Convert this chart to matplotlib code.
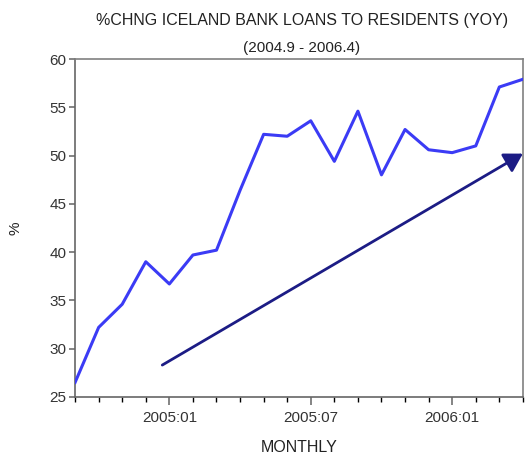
import matplotlib.pyplot as plt
import numpy as np

plt.rcParams['font.family'] = ['Liberation Sans', 'DejaVu Sans']

# monthly data, 2004.9 - 2006.4
months = ['2004:09', '2004:10', '2004:11', '2004:12', '2005:01', '2005:02',
          '2005:03', '2005:04', '2005:05', '2005:06', '2005:07', '2005:08',
          '2005:09', '2005:10', '2005:11', '2005:12', '2006:01', '2006:02',
          '2006:03', '2006:04']
loans_yoy = [26.5, 32.2, 34.6, 39.0, 36.7, 39.7, 40.2, 46.4, 52.2, 52.0,
             53.6, 49.4, 54.6, 48.0, 52.7, 50.6, 50.3, 51.0, 57.1, 57.9]
tick_labels = ['2005:01', '2005:07', '2006:01']

# trend arrow (month index, value)
arrow_start = (3.7, 28.3)
arrow_end = (19.0, 50.2)

x = np.arange(len(months))

fig = plt.figure(figsize=(5.25, 4.61), dpi=100)
ax = fig.add_axes([0.143, 0.139, 0.853, 0.733])

ax.plot(x, loans_yoy, color='#3b3bf5', linewidth=2.2, zorder=3)

ax.annotate('', xy=arrow_end, xytext=arrow_start,
            arrowprops=dict(arrowstyle='-|>,head_length=1.1,head_width=0.65',
                            color='#1c1c85', lw=2.0, shrinkA=0, shrinkB=0),
            annotation_clip=False, zorder=4)

ax.set_xlim(0, len(months) - 1)
ax.set_ylim(25, 60)
ax.set_yticks(np.arange(25, 61, 5))
major = [months.index(t) for t in tick_labels]
ax.set_xticks(major)
ax.set_xticklabels(tick_labels)
ax.set_xticks(x, minor=True)

for s in ax.spines.values():
    s.set_color('#808080')
    s.set_linewidth(1.2)
ax.spines['left'].set_color('#666666')
ax.spines['bottom'].set_color('#666666')
ax.tick_params(axis='both', colors='#707070', labelcolor='#333333',
               labelsize=11, direction='out')
ax.tick_params(axis='x', which='major', length=6, width=1.2, pad=4)
ax.tick_params(axis='x', which='minor', length=3.5, width=1.0)
ax.tick_params(axis='y', length=4, width=1.2, pad=2)

fig.text(0.575, 0.955, '%CHNG ICELAND BANK LOANS TO RESIDENTS (YOY)',
         ha='center', va='center', fontsize=11.5, color='#222222')
fig.text(0.575, 0.896, '(2004.9 - 2006.4)', ha='center', va='center',
         fontsize=11, color='#222222')
fig.text(0.03, 0.505, '%', rotation=90, ha='center', va='center',
         fontsize=11, color='#222222')
fig.text(0.57, 0.012, 'MONTHLY', ha='center', va='bottom', fontsize=11.5,
         color='#222222')

fig.savefig('out.png', dpi=100)
